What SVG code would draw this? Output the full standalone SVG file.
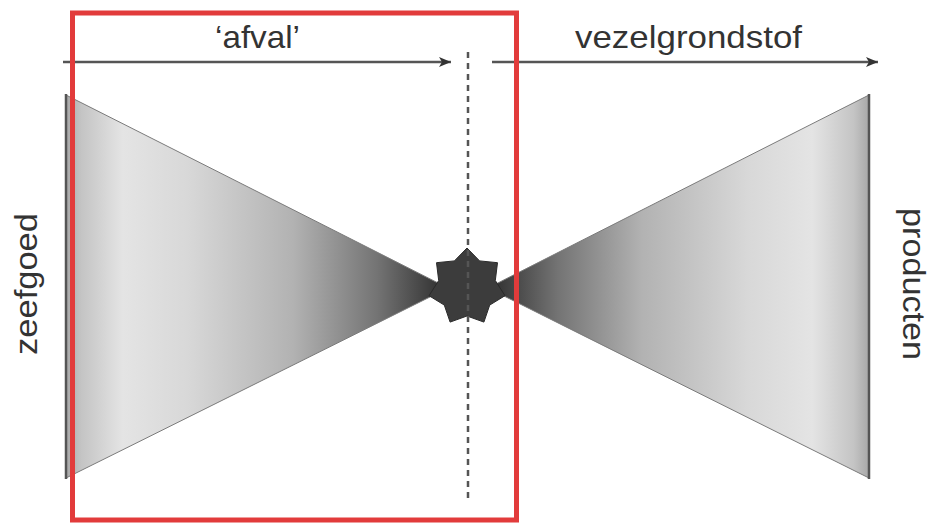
<svg xmlns="http://www.w3.org/2000/svg" width="931" height="523" viewBox="0 0 931 523">
<style>
.lbl{font-family:"Liberation Sans",Arial,sans-serif;font-size:32px;fill:#333333}
.arrow{stroke:#555555;stroke-width:2.5;fill:none}
.tri{stroke:#7a7a7a;stroke-width:1}
.edge{stroke:#555555;stroke-width:2.5}
</style>
<defs>
<marker id="ah" markerUnits="userSpaceOnUse" markerWidth="14" markerHeight="12" refX="12" refY="5" orient="auto">
<path d="M0,0 L12,5 L0,10 L3,5 z" fill="#333333"/>
</marker>
<linearGradient id="gl" gradientUnits="userSpaceOnUse" x1="66" y1="0" x2="445" y2="0">
<stop offset="0" stop-color="#a8a8a8"/>
<stop offset="0.04" stop-color="#c4c4c4"/>
<stop offset="0.15" stop-color="#e4e4e4"/>
<stop offset="0.32" stop-color="#d8d8d8"/>
<stop offset="0.6" stop-color="#b2b2b2"/>
<stop offset="0.82" stop-color="#747474"/>
<stop offset="1" stop-color="#2e2e2e"/>
</linearGradient>
<linearGradient id="gr" gradientUnits="userSpaceOnUse" x1="869" y1="0" x2="490" y2="0">
<stop offset="0" stop-color="#a8a8a8"/>
<stop offset="0.04" stop-color="#c4c4c4"/>
<stop offset="0.15" stop-color="#e4e4e4"/>
<stop offset="0.32" stop-color="#d8d8d8"/>
<stop offset="0.6" stop-color="#b2b2b2"/>
<stop offset="0.82" stop-color="#747474"/>
<stop offset="1" stop-color="#2e2e2e"/>
</linearGradient>
</defs>
<rect width="931" height="523" fill="#ffffff"/>
<g id="input-funnel">
<polygon class="tri" points="66,95 66,478 448,288" fill="url(#gl)"/>
<line class="edge" x1="66" y1="94" x2="66" y2="479"/>
</g>
<g id="output-funnel">
<polygon class="tri" points="869,95 869,478 488,288" fill="url(#gr)"/>
<line class="edge" x1="869" y1="94" x2="869" y2="479"/>
</g>
<g id="star">
<polygon points="467,248 479.6,260.9 497.5,262.7 495.3,280.5 505,295.7 489.7,305.1 483.9,322.1 467,316 450.1,322.1 444.3,305.1 429,295.7 438.7,280.5 436.5,262.7 454.4,260.9" fill="#3c3c3c" stroke="#2a2a2a" stroke-width="1"/>
</g>
<g id="connectors">
<line class="arrow" x1="63" y1="62" x2="451" y2="62" marker-end="url(#ah)"/>
<line class="arrow" x1="492" y1="62" x2="878" y2="62" marker-end="url(#ah)"/>
<line x1="468" y1="52" x2="468" y2="500" stroke="#555555" stroke-width="2.5" stroke-dasharray="6,5"/>
</g>
<g id="label-afval"><text class="lbl" x="215" y="48" textLength="85" lengthAdjust="spacingAndGlyphs">‘afval’</text></g>
<g id="label-vezelgrondstof"><text class="lbl" x="575" y="48" textLength="227" lengthAdjust="spacingAndGlyphs">vezelgrondstof</text></g>
<g id="label-zeefgoed"><text class="lbl" transform="translate(37,355) rotate(-90)" textLength="142" lengthAdjust="spacingAndGlyphs">zeefgoed</text></g>
<g id="label-producten"><text class="lbl" transform="translate(903,208) rotate(90)" textLength="152" lengthAdjust="spacingAndGlyphs">producten</text></g>
<g id="selection-box">
<rect x="72.5" y="13" width="444" height="507" fill="none" stroke="#e23b3b" stroke-width="5"/>
</g>
</svg>
